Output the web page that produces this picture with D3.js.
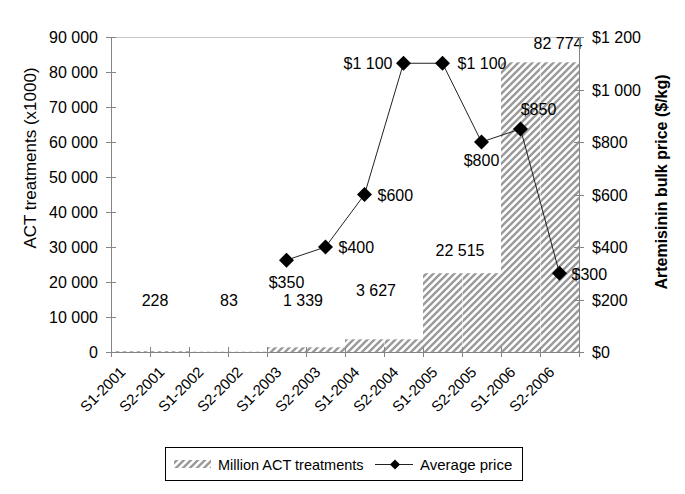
<!DOCTYPE html>
<html><head><meta charset="utf-8">
<script src="https://cdn.jsdelivr.net/npm/d3@7"></script>
<style>
body{margin:0;background:#fff;}
text{font-family:"Liberation Sans",Arial,sans-serif;fill:#000;}
</style></head>
<body>
<svg id="c" width="685" height="494"></svg>
<script>
// ---- data ----
const categories = ["S1-2001","S2-2001","S1-2002","S2-2002","S1-2003","S2-2003","S1-2004","S2-2004","S1-2005","S2-2005","S1-2006","S2-2006"];
const years = ["2001","2002","2003","2004","2005","2006"];
const treatments = [228, 83, 1339, 3627, 22515, 82774];          // ACT treatments (x1000) per year
const treatmentLabels = ["228","83","1 339","3 627","22 515","82 774"];
const priceCategories = ["S1-2003","S2-2003","S1-2004","S2-2004","S1-2005","S2-2005","S1-2006","S2-2006"];
const prices = [350, 400, 600, 1100, 1100, 800, 850, 300];
const priceLabels = ["$350","$400","$600","$1 100","$1 100","$800","$850","$300"];
const leftTicks = [0,10000,20000,30000,40000,50000,60000,70000,80000,90000];
const rightTicks = [0,200,400,600,800,1000,1200];

// ---- layout ----
const svg = d3.select("#c");
const L = 111, R = 579, T = 37, B = 352;
const x = d3.scaleBand().domain(categories).range([L, R]).padding(0);
const yL = d3.scaleLinear().domain([0, 90000]).range([B, T]);
const yR = d3.scaleLinear().domain([0, 1200]).range([B, T]);
const fmt = v => d3.format(",")(v).replace(/,/g, " ");
const axisCol = "#858585";

const defs = svg.append("defs");
const pat = defs.append("pattern").attr("id","hatch").attr("patternUnits","userSpaceOnUse")
  .attr("width",7).attr("height",7);
pat.append("rect").attr("width",7).attr("height",7).attr("fill","#fff");
pat.append("path").attr("d","M-1,1 L1,-1 M0,7 L7,0 M6,8 L8,6")
  .attr("stroke","#9a9a9a").attr("stroke-width",2.4);

// top border
svg.append("line").attr("x1",L).attr("x2",R).attr("y1",T+0.5).attr("y2",T+0.5)
  .attr("stroke","#c8c8c8");

// bars: each half-year carries its year's total
const barData = categories.map((c,i)=>({c, v: treatments[Math.floor(i/2)]}));
svg.append("g").selectAll("rect").data(barData).join("rect")
  .attr("x", d=>x(d.c)).attr("width", x.bandwidth())
  .attr("y", d=>yL(d.v)).attr("height", d=>B - yL(d.v))
  .attr("fill","url(#hatch)");
// faint separators between halves
svg.append("g").selectAll("line").data(barData.filter((d,i)=>i%2===1)).join("line")
  .attr("x1", d=>x(d.c)+0.5).attr("x2", d=>x(d.c)+0.5)
  .attr("y1", d=>yL(d.v)).attr("y2", B)
  .attr("stroke","#fff").attr("stroke-width",0.8).attr("opacity",0.7);

// bar labels (year totals)
const labelOff = [[5,-45],[1,-46],[-3,-41],[-8,-43],[-2,-17],[18,-13]];
svg.append("g").selectAll("text").data(years).join("text")
  .attr("x",(d,i)=> x(categories[i*2]) + x.bandwidth() + labelOff[i][0])
  .attr("y",(d,i)=> yL(treatments[i]) + labelOff[i][1])
  .attr("text-anchor","middle").attr("font-size",16)
  .text((d,i)=>treatmentLabels[i]);

// left axis
const gL = svg.append("g");
gL.append("line").attr("x1",L+0.5).attr("x2",L+0.5).attr("y1",T).attr("y2",B+1).attr("stroke",axisCol);
gL.selectAll(".t").data(leftTicks).join("line")
  .attr("x1",L-5).attr("x2",L+5).attr("y1",d=>Math.round(yL(d))+0.5).attr("y2",d=>Math.round(yL(d))+0.5)
  .attr("stroke",axisCol);
gL.selectAll("text").data(leftTicks).join("text")
  .attr("x",L-13).attr("y",d=>yL(d)+6).attr("text-anchor","end").attr("font-size",16)
  .text(d=>fmt(d));

// right axis
const gR = svg.append("g");
gR.append("line").attr("x1",R+0.5).attr("x2",R+0.5).attr("y1",T).attr("y2",B+1).attr("stroke",axisCol);
gR.selectAll(".t").data(rightTicks).join("line")
  .attr("x1",R-5).attr("x2",R+5).attr("y1",d=>Math.round(yR(d))+0.5).attr("y2",d=>Math.round(yR(d))+0.5)
  .attr("stroke",axisCol);
gR.selectAll("text").data(rightTicks).join("text")
  .attr("x",R+13).attr("y",d=>yR(d)+6).attr("text-anchor","start").attr("font-size",16)
  .text(d=>"$"+fmt(d));

// bottom axis
const gB = svg.append("g");
gB.append("line").attr("x1",L).attr("x2",R+1).attr("y1",B+0.5).attr("y2",B+0.5).attr("stroke",axisCol);
const bounds = categories.map(c=>x(c)).concat([R]);
gB.selectAll(".t").data(bounds).join("line")
  .attr("x1",d=>Math.round(d)+0.5).attr("x2",d=>Math.round(d)+0.5).attr("y1",B-5).attr("y2",B+5)
  .attr("stroke",axisCol);
gB.selectAll("text").data(categories).join("text")
  .attr("text-anchor","end").attr("font-size",15)
  .attr("transform",d=>`translate(${x(d)+x.bandwidth()/2-4},${B+21}) rotate(-45)`)
  .text(d=>d);

// price line
const px = d => x(d) + x.bandwidth()/2;
const pts = priceCategories.map((c,i)=>({c, v: prices[i], l: priceLabels[i]}));
svg.append("path").datum(pts)
  .attr("d", d3.line().x(d=>px(d.c)).y(d=>yR(d.v)))
  .attr("fill","none").attr("stroke","#222").attr("stroke-width",1);
const dia = r => `M0,${-r}L${r},0L0,${r}L${-r},0Z`;
svg.append("g").selectAll("path").data(pts).join("path")
  .attr("d", dia(7.5)).attr("transform", d=>`translate(${px(d.c)},${yR(d.v)})`).attr("fill","#000");
// price labels: placement relative to marker
const pPos = [["b",0,28],["r",13,6],["r",13,6],["l",-11,6],["r",15,6],["b",0,24],["a",18,-14],["r",12,7]];
svg.append("g").selectAll("text").data(pts).join("text")
  .attr("x",(d,i)=>px(d.c)+pPos[i][1]).attr("y",(d,i)=>yR(d.v)+pPos[i][2])
  .attr("text-anchor",(d,i)=>pPos[i][0]==="l"?"end":(pPos[i][0]==="r"?"start":"middle"))
  .attr("font-size",16).text(d=>d.l);

// axis titles
svg.append("text").attr("transform","translate(36,158) rotate(-90)").attr("text-anchor","middle")
  .attr("font-size",17).text("ACT treatments (x1000)");
svg.append("text").attr("transform","translate(667,182) rotate(-90)").attr("text-anchor","middle")
  .attr("font-size",16).attr("font-weight","bold").text("Artemisinin bulk price ($/kg)");

// legend
const lg = svg.append("g");
lg.append("rect").attr("x",165.5).attr("y",447.5).attr("width",357).attr("height",33)
  .attr("fill","#fff").attr("stroke","#000");
lg.append("rect").attr("x",174).attr("y",460).attr("width",37).attr("height",8).attr("fill","url(#hatch)");
lg.append("text").attr("x",218).attr("y",469.5).attr("font-size",14.5).text("Million ACT treatments");
lg.append("line").attr("x1",375).attr("x2",413).attr("y1",464.5).attr("y2",464.5).attr("stroke","#222");
lg.append("path").attr("d",dia(5)).attr("transform","translate(395,464.5)").attr("fill","#000");
lg.append("text").attr("x",420).attr("y",469.5).attr("font-size",15).text("Average price");
</script>
</body></html>
